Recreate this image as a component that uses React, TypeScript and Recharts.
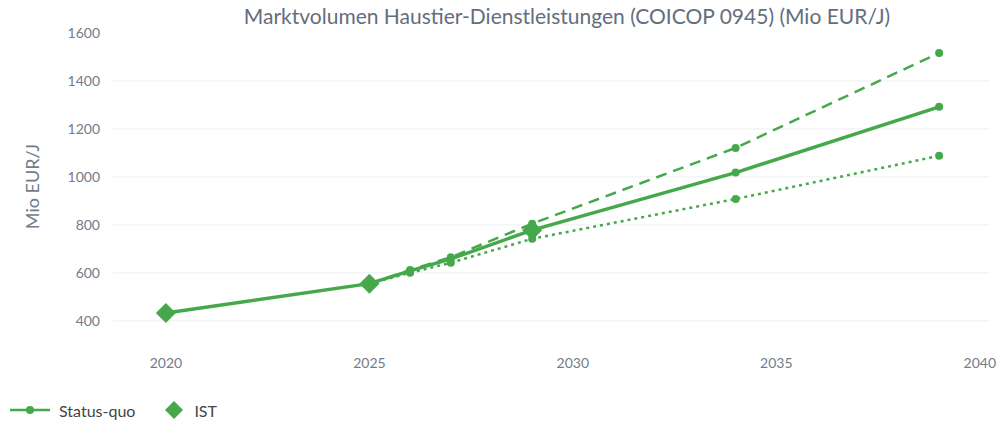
import React from "react";
import {
  ComposedChart,
  Line,
  Scatter,
  XAxis,
  YAxis,
  ReferenceLine,
} from "recharts";

const GREEN = "#45a94b";
const FONT = "Lato, 'Noto Sans', sans-serif";

const xTicks = [2020, 2025, 2030, 2035, 2040];
const yTicks = [400, 600, 800, 1000, 1200, 1400, 1600];
const gridValues = [400, 600, 800, 1000, 1200, 1400];

const statusQuoYears = [2020, 2025, 2026, 2027, 2029, 2034, 2039];
const statusQuoValues = [433, 555, 608, 658, 778, 1018, 1292];

const highYears = [2025, 2026, 2027, 2029, 2034, 2039];
const highValues = [555, 612, 665, 805, 1121, 1517];

const lowYears = [2025, 2026, 2027, 2029, 2034, 2039];
const lowValues = [555, 600, 642, 742, 908, 1088];

const istYears = [2020, 2025, 2029];
const istValues = [433, 555, 778];

const toRows = (years: number[], values: number[]) =>
  years.map((year, i) => ({ year, value: values[i] }));

const statusQuo = toRows(statusQuoYears, statusQuoValues);
const high = toRows(highYears, highValues);
const low = toRows(lowYears, lowValues);
const ist = toRows(istYears, istValues);

// square diamond like the reference marker
const Diamond = (props: any) => {
  const { cx, cy } = props;
  const r = 10;
  return (
    <polygon
      points={`${cx},${cy - r} ${cx + r},${cy} ${cx},${cy + r} ${cx - r},${cy}`}
      fill={GREEN}
    />
  );
};

function LegendRow() {
  return (
    <div
      style={{
        position: "absolute",
        left: 0,
        top: 399,
        display: "flex",
        alignItems: "center",
        fontFamily: FONT,
        fontSize: 16,
        color: "#444",
      }}
    >
      <svg width={46} height={22} style={{ marginLeft: 8 }}>
        <line x1={2} y1={11} x2={42} y2={11} stroke={GREEN} strokeWidth={2.5} />
        <circle cx={22} cy={11} r={4} fill={GREEN} />
      </svg>
      <span style={{ marginLeft: 5 }}>Status-quo</span>
      <svg width={22} height={22} style={{ marginLeft: 28 }}>
        <polygon points="11,2 20,11 11,20 2,11" fill={GREEN} />
      </svg>
      <span style={{ marginLeft: 9 }}>IST</span>
    </div>
  );
}

export default function App() {
  return (
    <div style={{ position: "absolute", left: 0, top: 0, width: 1004, height: 430, background: "#fff" }}>
      <div
        style={{
          position: "absolute",
          left: 0,
          width: 1134,
          top: 3,
          textAlign: "center",
          fontFamily: FONT,
          fontSize: 21,
          color: "#646e7d",
        }}
      >
        Marktvolumen Haustier-Dienstleistungen (COICOP 0945) (Mio EUR/J)
      </div>
      <ComposedChart
        width={1004}
        height={430}
        margin={{ top: 33, right: 14, bottom: 50, left: 43 }}
        style={{ fontFamily: FONT }}
      >
        {gridValues.map((v) => (
          <ReferenceLine key={v} y={v} stroke="#eceff3" strokeWidth={1} />
        ))}
        <XAxis
          dataKey="year"
          type="number"
          domain={[2018.7, 2040.25]}
          ticks={xTicks}
          allowDataOverflow
          axisLine={false}
          tickLine={false}
          tickMargin={12}
          height={40}
          tick={{ fill: "#737c8a", fontSize: 14 }}
        />
        <YAxis
          type="number"
          domain={[320, 1600]}
          ticks={yTicks}
          allowDataOverflow
          width={70}
          axisLine={false}
          tickLine={false}
          tickMargin={7}
          tick={{ fill: "#737c8a", fontSize: 14 }}
          label={{
            content: (props: any) => {
              const vb = props.viewBox || {};
              const cx = 32;
              const cy = vb.y + vb.height / 2;
              return (
                <text
                  x={cx}
                  y={cy}
                  transform={`rotate(-90 ${cx} ${cy})`}
                  textAnchor="middle"
                  dominantBaseline="central"
                  fill="#737c8a"
                  fontSize={18}
                  fontFamily={FONT}
                >
                  Mio EUR/J
                </text>
              );
            },
          }}
        />
        <Line
          data={low}
          dataKey="value"
          name="Status-quo low"
          stroke={GREEN}
          strokeWidth={2.5}
          strokeDasharray="3 4"
          dot={{ r: 4, fill: GREEN, stroke: "none" }}
          isAnimationActive={false}
        />
        <Line
          data={high}
          dataKey="value"
          name="Status-quo high"
          stroke={GREEN}
          strokeWidth={2.5}
          strokeDasharray="11 7"
          dot={{ r: 4, fill: GREEN, stroke: "none" }}
          isAnimationActive={false}
        />
        <Line
          data={statusQuo}
          dataKey="value"
          name="Status-quo"
          stroke={GREEN}
          strokeWidth={3.5}
          dot={{ r: 4, fill: GREEN, stroke: "none" }}
          isAnimationActive={false}
        />
        <Scatter
          data={ist}
          dataKey="value"
          name="IST"
          fill={GREEN}
          shape={Diamond}
          isAnimationActive={false}
        />
      </ComposedChart>
      <LegendRow />
    </div>
  );
}
